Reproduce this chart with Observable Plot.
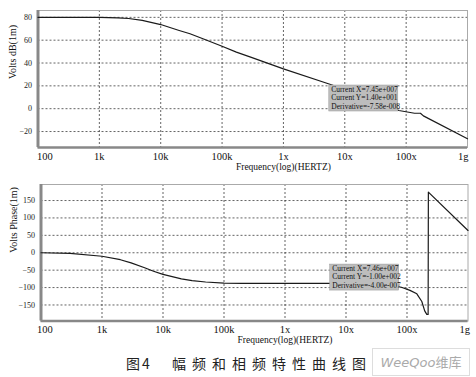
<!DOCTYPE html>
<html>
<head>
<meta charset="utf-8">
<script src="https://cdn.jsdelivr.net/npm/d3@7"></script>
<script src="https://cdn.jsdelivr.net/npm/@observablehq/plot@0.6"></script>
<style>
  html, body { margin: 0; padding: 0; background: #fff; }
  #wrap { position: relative; width: 476px; height: 377px; overflow: hidden; background: #fff; }
  #top, #bottom { position: absolute; left: 0; }
  #top { top: 0; }
  #bottom { top: 176px; }
  svg { display: block; }
  .cap1, .cap2 { position: absolute; top: 354px; font-family: "Noto Sans CJK SC", sans-serif; font-size: 14px; color: #222; line-height: 18px; }
  .cap1 { left: 126px; letter-spacing: 2px; }
  .cap2 { left: 172px; letter-spacing: 6px; }
  .wm { position: absolute; left: 372px; top: 348px; width: 96px; height: 26px; border: 1px solid #ddd; font-size: 13px; line-height: 26px; color: #aaa; text-align: center; font-family: "DejaVu Sans", sans-serif; }
  .wm i { font-style: italic; }
</style>
</head>
<body>
<div id="wrap">
  <div id="top"></div>
  <div id="bottom"></div>
  <div class="cap1">图4</div>
  <div class="cap2">幅频和相频特性曲线图</div>
  <div class="wm"><i>WeeQoo</i><span style="font-family:'Noto Sans CJK SC'">维库</span></div>
</div>
<script>
// ---- data ----
const freqTicks = [100, 1e3, 1e4, 1e5, 1e6, 1e7, 1e8, 1e9];
const freqLabels = ["100", "1k", "10k", "100k", "1x", "10x", "100x", "1g"];

const magTicks = [80, 60, 40, 20, 0, -20];
const magDomain = [-34, 86];
const magFreq = [100, 300, 1e3, 2e3, 3e3, 5e3, 1e4, 2e4, 3e4, 5e4, 1e5, 1.71e5, 3e5, 1e6, 5.4e6, 1e7, 3e7, 7.6e7, 1.37e8, 1.71e8, 1.91e8, 1e9];
const magDb   = [80, 80, 80, 79.6, 79, 77.3, 73.7, 68.5, 65.6, 61, 54.7, 49.5, 45, 34.9, 21.8, 17, 8, -1.6, -4, -4, -6.3, -26.4];

const phaseTicks = [150, 100, 50, 0, -50, -100, -150];
const phaseDomain = [-196, 196];
const phaseFreq = [100, 300, 1e3, 2e3, 3e3, 5e3, 7e3, 1e4, 2e4, 3e4, 5e4, 1e5, 2e5, 1e6, 1e7, 3e7, 6e7, 8.1e7, 1.12e8, 1.45e8, 1.75e8, 1.95e8, 2.11e8, 2.22e8, 2.24e8, 1e9];
const phaseDeg  = [0, -2, -10, -20, -29, -43, -53, -62, -75, -80, -84, -87, -88, -88, -88, -90, -95, -99, -108, -118, -140, -167, -177, -177, 174, 64];

const magCursor = {f: 7.45e7, v: -1.6, text: "Current X=7.45e+007\nCurrent Y=1.40e+001\nDerivative=-7.58e-008"};
const phaseCursor = {f: 7.46e7, v: -100, text: "Current X=7.46e+007\nCurrent Y=-1.00e+002\nDerivative=-4.00e-007"};

const magLabel = "Volts dB(1m)";
const phaseLabel = "Volts Phase(1m)";
const xLabel = "Frequency(log)(HERTZ)";

// ---- build ----
const labelOf = new Map(freqTicks.map((f, i) => [f, freqLabels[i]]));
const fmt = d => labelOf.get(d);
const font = "'Liberation Serif', 'Times New Roman', serif";

function panel({height, marginTop, marginBottom, marginLeft, marginRight, yDomain, yTicks, data, yLabel, cursor, box, firstDx, lastDx, ylabDx}) {
  const gridStyle = {stroke: "#333", strokeOpacity: 0.85, strokeDasharray: "2,2", strokeWidth: 0.9};
  return Plot.plot({
    width: 476, height, marginTop, marginBottom, marginLeft, marginRight,
    style: {fontFamily: font, background: "#fff", color: "#222", overflow: "visible"},
    x: {type: "log", domain: [100, 1e9], axis: null},
    y: {domain: yDomain, axis: null},
    marks: [
      Plot.gridX(freqTicks.slice(1, -1), gridStyle),
      Plot.gridY(yTicks, gridStyle),
      Plot.frame({stroke: "#aaa", strokeWidth: 1}),
      Plot.ruleX([100], {stroke: "#888", strokeWidth: 3}),
      Plot.ruleY([yDomain[0]], {stroke: "#888", strokeWidth: 2.5}),
      Plot.line(data, {x: "f", y: "v", stroke: "#1a1a1a", strokeWidth: 1.2}),
      Plot.rect([cursor], {x1: "f", x2: "f", y1: "v", y2: "v", fill: "#bdbdbd", stroke: "#999", strokeWidth: 0.5,
        insetLeft: box.l, insetRight: box.r, insetTop: box.t, insetBottom: box.b}),
      Plot.text([cursor], {x: "f", y: "v", text: "text", textAnchor: "start", lineAnchor: "bottom", lineHeight: 1.12,
        dx: box.tx, dy: box.ty, fontSize: 7.5, fill: "#111"}),
      Plot.axisY(yTicks, {tickSize: 0, tickPadding: 6, fontSize: 8, label: null, fill: "#222"}),
      Plot.axisX(freqTicks.slice(1, -1), {tickSize: 0, tickPadding: 5, fontSize: 10.5, tickFormat: fmt, label: null, fill: "#111"}),
      Plot.axisX([freqTicks[0]], {tickSize: 0, tickPadding: 5, fontSize: 10.5, tickFormat: fmt, label: null, textAnchor: "start", dx: firstDx, fill: "#111"}),
      Plot.axisX([freqTicks[freqTicks.length - 1]], {tickSize: 0, tickPadding: 5, fontSize: 10.5, tickFormat: fmt, label: null, textAnchor: "end", dx: lastDx, fill: "#111"}),
      Plot.text([yLabel], {text: d => d, frameAnchor: "left", rotate: -90, dx: ylabDx, fontSize: 10, fill: "#111"}),
      Plot.text([xLabel], {text: d => d, x: () => 1e6, frameAnchor: "bottom", dy: 22, fontSize: 9.5, fill: "#111"})
    ]
  });
}

const magData = magFreq.map((f, i) => ({f, v: magDb[i]}));
const phaseData = phaseFreq.map((f, i) => ({f, v: phaseDeg[i]}));

document.getElementById("top").append(panel({
  height: 176, marginTop: 10, marginBottom: 29, marginLeft: 37.5, marginRight: 9,
  yDomain: magDomain, yTicks: magTicks, data: magData, yLabel: magLabel, cursor: magCursor,
  box: {l: -69, r: 0, t: -25, b: -1, tx: -67, ty: -2},
  firstDx: -1, lastDx: 1, ylabDx: -25.5
}));

document.getElementById("bottom").append(panel({
  height: 169, marginTop: 8, marginBottom: 24.5, marginLeft: 40.5, marginRight: 8.5,
  yDomain: phaseDomain, yTicks: phaseTicks, data: phaseData, yLabel: phaseLabel, cursor: phaseCursor,
  box: {l: -69, r: 0, t: -23, b: -3, tx: -67, ty: 0},
  firstDx: -4, lastDx: 2, ylabDx: -27
}));
</script>
</body>
</html>
